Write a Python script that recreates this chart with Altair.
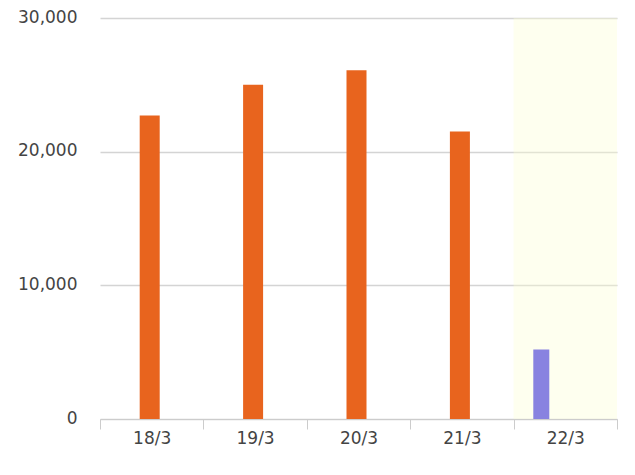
import altair as alt
import pandas as pd

dates = ["18/3", "19/3", "20/3", "21/3", "22/3"]
values = [22700, 25000, 26100, 21500, 5200]
series = ["past", "past", "past", "past", "today"]
highlight_dates = ["22/3"]
y_ticks = [0, 10000, 20000, 30000]

df = pd.DataFrame({"date": dates, "value": values, "series": series})
hl = pd.DataFrame({"date": highlight_dates, "top": [30000], "bottom": [0]})

xscale = alt.Scale(domain=dates, paddingInner=0, paddingOuter=0)
yscale = alt.Scale(domain=[0, 30000], nice=False)

xaxis = alt.Axis(
    title=None, labelAngle=0, tickBand="extent", tickSize=10, tickColor="#cccccc",
    domainColor="#cccccc", labelFont="DejaVu Sans", labelFontSize=17,
    labelColor="#444444", labelPadding=1, grid=False,
)
yaxis = alt.Axis(
    title=None, values=y_ticks, format=",.0f", domain=False, ticks=False,
    labelFont="DejaVu Sans", labelFontSize=17, labelColor="#444444",
    labelPadding=23, labelOffset=-1, gridColor="#d4d4d4", gridWidth=1.5,
)

X = alt.X("date:N", scale=xscale, axis=xaxis, sort=dates)

bg = alt.Chart(hl).mark_rect(color="#FBFFD0", opacity=0.35).encode(
    x=X,
    y=alt.Y("top:Q", scale=yscale, axis=yaxis),
    y2="bottom:Q",
)

past = alt.Chart(df[df.series == "past"]).mark_bar(size=20, xOffset=-2, color="#E8641E").encode(
    x=X,
    y=alt.Y("value:Q", scale=yscale, axis=yaxis),
)

today = alt.Chart(df[df.series == "today"]).mark_bar(size=16, xOffset=-24, color="#8882E0").encode(
    x=X,
    y=alt.Y("value:Q", scale=yscale, axis=yaxis),
)

chart = alt.layer(bg, past, today).properties(
    width=517, height=401,
    autosize=alt.AutoSizeParams(type="none"),
    padding={"left": 92, "top": 10, "right": 10, "bottom": 40},
).configure_view(stroke=None)

chart.save("out.html", embed_options={"renderer": "svg", "actions": False})
